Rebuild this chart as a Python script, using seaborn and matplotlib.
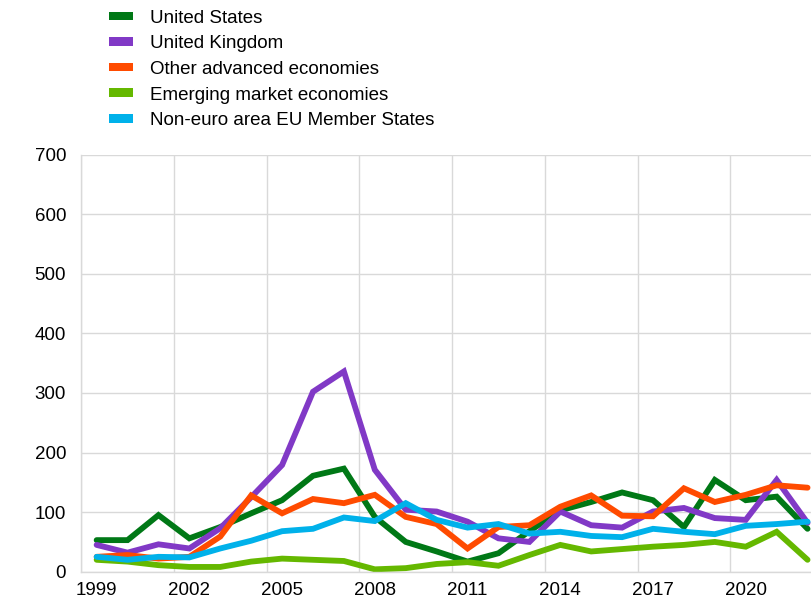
import numpy as np
import pandas as pd
import seaborn as sns
import matplotlib.pyplot as plt
from matplotlib.patches import Patch
from matplotlib.ticker import FixedLocator

years = list(range(1999, 2023))

united_states = [53, 53, 95, 56, 75, 98, 120, 161, 173, 92, 50, 34,
                 17, 31, 68, 103, 117, 133, 120, 75, 154, 120, 126, 72]
united_kingdom = [45, 32, 46, 39, 73, 125, 179, 302, 336, 171, 104, 101,
                  84, 56, 50, 101, 78, 74, 101, 107, 90, 87, 154, 82]
other_advanced = [25, 28, 22, 25, 59, 128, 98, 122, 115, 129, 92, 80,
                  39, 75, 78, 109, 128, 94, 93, 140, 117, 129, 145, 141]
emerging = [20, 17, 11, 8, 8, 17, 22, 20, 18, 4, 6, 13,
            16, 10, 28, 45, 34, 38, 42, 45, 50, 42, 67, 20]
non_euro_eu = [25, 20, 25, 24, 39, 52, 68, 72, 91, 85, 115, 87,
               74, 80, 64, 67, 60, 58, 72, 67, 63, 77, 80, 84]

series_names = ["United States", "United Kingdom", "Other advanced economies",
                "Emerging market economies", "Non-euro area EU Member States"]
series_values = [united_states, united_kingdom, other_advanced, emerging, non_euro_eu]
colors = ["#007816", "#8139c6", "#ff4b00", "#65b800", "#00b1ea"]

y_ticks = [0, 100, 200, 300, 400, 500, 600, 700]
x_tick_years = list(range(1999, 2023, 3))

df = pd.DataFrame({
    "year": np.tile(years, len(series_names)),
    "value": np.concatenate(series_values),
    "series": np.repeat(series_names, len(years)),
})

sns.set_theme(style="white")
plt.rcParams["font.family"] = ["Liberation Sans", "DejaVu Sans"]
plt.rcParams["text.color"] = "#000000"

fig = plt.figure(figsize=(8.11, 6.02), dpi=100)
ax = fig.add_axes([0.1001, 0.0503, 0.9147, 0.693])

sns.lineplot(data=df, x="year", y="value", hue="series", hue_order=series_names,
             palette=colors, linewidth=4.2, ax=ax, legend=False,
             solid_joinstyle="miter")

ax.set_xlim(1998.5, 2022.5)
ax.set_ylim(0, 700)
ax.set_yticks(y_ticks)
ax.set_xticks(x_tick_years)
ax.set_xticklabels([str(y) for y in x_tick_years])
ax.xaxis.set_minor_locator(FixedLocator(np.arange(1998.5, 2023, 3)))
ax.grid(False)
ax.grid(True, which="minor", axis="x", color="#d9d9d9", linewidth=1)
ax.grid(True, which="major", axis="y", color="#d9d9d9", linewidth=1)
ax.set_axisbelow(True)
ax.tick_params(axis="both", which="both", length=0, labelsize=13.5,
               colors="#000000")
ax.tick_params(axis="y", pad=10.8)
ax.tick_params(axis="x", pad=7.5)
ax.set_xlabel("")
ax.set_ylabel("")
for side in ["top", "right"]:
    ax.spines[side].set_visible(False)
for side in ["left", "bottom"]:
    ax.spines[side].set_color("#d9d9d9")
    ax.spines[side].set_linewidth(1)

handles = [Patch(facecolor=c, edgecolor="none") for c in colors]
fig.legend(handles, series_names, loc="upper left",
           bbox_to_anchor=(0.134, 0.984), frameon=False, fontsize=13.5,
           handlelength=1.3, handleheight=0.33, handletextpad=0.9,
           labelspacing=0.46, borderpad=0.0, borderaxespad=0,
           labelcolor="#000000")

fig.savefig("out.png", dpi=100)
